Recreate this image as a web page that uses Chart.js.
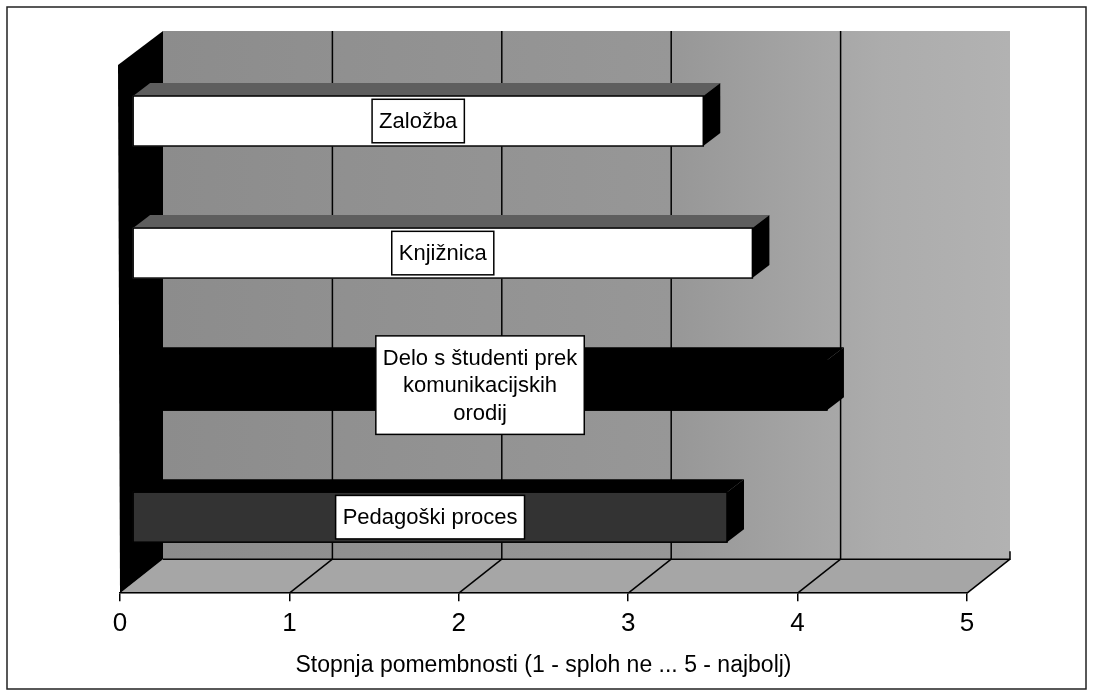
<!DOCTYPE html>
<html>
<head>
<meta charset="utf-8">
<script src="https://cdn.jsdelivr.net/npm/chart.js"></script>
<style>
  html, body { margin: 0; padding: 0; background: #fff; }
</style>
</head>
<body>
<canvas id="myChart" width="1093" height="693"></canvas>

<script>
    // Datos del gráfico (de arriba hacia abajo)
    var categories = ['Založba', 'Knjižnica', 'Delo s študenti prek komunikacijskih orodij', 'Pedagoški proces'];
    var labelLines = [['Založba'], ['Knjižnica'], ['Delo s študenti prek', 'komunikacijskih', 'orodij'], ['Pedagoški proces']];
    var values = [3.37, 3.66, 4.10, 3.51];
    var tickValues = [0, 1, 2, 3, 4, 5];
    var axisTitle = 'Stopnja pomembnosti (1 - sploh ne ... 5 - najbolj)';

    // Estilos
    var frontColors = ['#ffffff', '#ffffff', '#000000', '#333333'];
    var topColors = ['#5e5e5e', '#5e5e5e', '#000000', '#000000'];
    var FONT = "'Liberation Sans', Arial, sans-serif";

    // Profundidad 3D
    var DX = 43, DY = -34;       // profundidad total del suelo/pared
    var BX = 12.4, BY = -10;     // posición de la cara frontal de las barras
    var BDX = 17, BDY = -13;     // grosor de las barras

    var scene3d = {
        id: 'scene3d',
        beforeDraw: function(chart) {
            var ctx = chart.ctx, a = chart.chartArea, xs = chart.scales.x;
            ctx.save();
            // marco exterior
            ctx.strokeStyle = '#222';
            ctx.lineWidth = 1.5;
            ctx.strokeRect(7, 7, 1079, 682);

            // pared del fondo
            var g = ctx.createLinearGradient(a.left + DX, 0, a.right + DX, 0);
            g.addColorStop(0, '#8c8c8c');
            g.addColorStop(0.6, '#979797');
            g.addColorStop(0.85, '#acacac');
            g.addColorStop(1, '#b2b2b2');
            ctx.fillStyle = g;
            ctx.fillRect(a.left + DX, a.top + DY, a.right - a.left, a.bottom - a.top);

            // suelo
            ctx.fillStyle = '#a6a6a6';
            ctx.beginPath();
            ctx.moveTo(a.left, a.bottom);
            ctx.lineTo(a.right, a.bottom);
            ctx.lineTo(a.right + DX, a.bottom + DY);
            ctx.lineTo(a.left + DX, a.bottom + DY);
            ctx.closePath();
            ctx.fill();

            // líneas de la cuadrícula
            ctx.strokeStyle = '#000';
            ctx.lineWidth = 1.5;
            tickValues.forEach(function(v) {
                var px = xs.getPixelForValue(v);
                if (v > 0 && v < 5) {
                    ctx.beginPath();
                    ctx.moveTo(px + DX, a.top + DY);
                    ctx.lineTo(px + DX, a.bottom + DY);
                    ctx.stroke();
                }
                if (v > 0) {
                    ctx.beginPath();
                    ctx.moveTo(px, a.bottom);
                    ctx.lineTo(px + DX, a.bottom + DY);
                    ctx.stroke();
                }
            });
            ctx.beginPath();
            ctx.moveTo(a.left + DX, a.bottom + DY);
            ctx.lineTo(a.right + DX, a.bottom + DY);
            ctx.lineTo(a.right + DX, a.bottom + DY - 8);
            ctx.stroke();

            // pared izquierda
            ctx.fillStyle = '#000';
            ctx.beginPath();
            ctx.moveTo(a.left - 2, a.top);
            ctx.lineTo(a.left + DX, a.top + DY);
            ctx.lineTo(a.left + DX, a.bottom + DY);
            ctx.lineTo(a.left, a.bottom);
            ctx.closePath();
            ctx.fill();
            ctx.restore();
        },
        beforeDatasetsDraw: function(chart) {
            chart.ctx.save();
            chart.ctx.translate(BX, BY);
        },
        afterDatasetsDraw: function(chart) {
            var ctx = chart.ctx;
            var meta = chart.getDatasetMeta(0);
            meta.data.forEach(function(bar, i) {
                var top = bar.y - bar.height / 2, bot = bar.y + bar.height / 2;
                // cara superior
                ctx.fillStyle = topColors[i];
                ctx.beginPath();
                ctx.moveTo(bar.base, top);
                ctx.lineTo(bar.x, top);
                ctx.lineTo(bar.x + BDX, top + BDY);
                ctx.lineTo(bar.base + BDX, top + BDY);
                ctx.closePath();
                ctx.fill();
                // cara derecha
                ctx.fillStyle = '#000';
                ctx.beginPath();
                ctx.moveTo(bar.x, top);
                ctx.lineTo(bar.x + BDX, top + BDY);
                ctx.lineTo(bar.x + BDX, bot + BDY);
                ctx.lineTo(bar.x, bot);
                ctx.closePath();
                ctx.fill();
                ctx.strokeStyle = '#000';
                ctx.lineWidth = 1.5;
                ctx.strokeRect(bar.base, top, bar.x - bar.base, bar.height);
            });

            // etiquetas centradas en las barras
            ctx.font = '22px ' + FONT;
            ctx.textAlign = 'center';
            ctx.textBaseline = 'middle';
            var lh = 27.5;
            meta.data.forEach(function(bar, i) {
                var lines = labelLines[i];
                var w = 0;
                lines.forEach(function(t) { w = Math.max(w, ctx.measureText(t).width); });
                var bw = w + 14, bh = lines.length * lh + 16;
                var cx = (bar.base + bar.x) / 2, cy = bar.y;
                ctx.fillStyle = '#fff';
                ctx.fillRect(cx - bw / 2, cy - bh / 2, bw, bh);
                ctx.strokeStyle = '#000';
                ctx.lineWidth = 1.5;
                ctx.strokeRect(cx - bw / 2, cy - bh / 2, bw, bh);
                ctx.fillStyle = '#000';
                lines.forEach(function(t, k) {
                    ctx.fillText(t, cx, cy - (lines.length - 1) * lh / 2 + k * lh + 1);
                });
            });
            ctx.restore();
        }
    };

    var ctx = document.getElementById('myChart').getContext('2d');
    var myChart = new Chart(ctx, {
        type: 'bar',
        data: {
            labels: categories,
            datasets: [{
                label: 'Stopnja pomembnosti',
                data: values,
                backgroundColor: frontColors,
                borderColor: '#000',
                borderWidth: 0,
                barThickness: 50,
                clip: false
            }]
        },
        options: {
            indexAxis: 'y',
            responsive: false,
            animation: false,
            devicePixelRatio: 1,
            layout: { padding: { left: 120, right: 126, top: 65, bottom: 14 } },
            plugins: {
                legend: { display: false },
                tooltip: { enabled: false }
            },
            scales: {
                y: { display: false },
                x: {
                    min: 0,
                    max: 5,
                    afterBuildTicks: function(s) {
                        s.ticks = tickValues.map(function(v) { return { value: v }; });
                    },
                    ticks: {
                        color: '#000',
                        font: { family: FONT, size: 26 },
                        padding: 7,
                        maxRotation: 0
                    },
                    grid: {
                        drawOnChartArea: false,
                        drawTicks: true,
                        tickLength: 8,
                        color: '#000',
                        lineWidth: 1.5
                    },
                    border: { display: true, color: '#000', width: 1.5 },
                    title: {
                        display: true,
                        text: axisTitle,
                        color: '#000',
                        font: { family: FONT, size: 23 },
                        padding: { top: 5, bottom: 0 }
                    }
                }
            }
        },
        plugins: [scene3d]
    });
</script>
</body>
</html>
